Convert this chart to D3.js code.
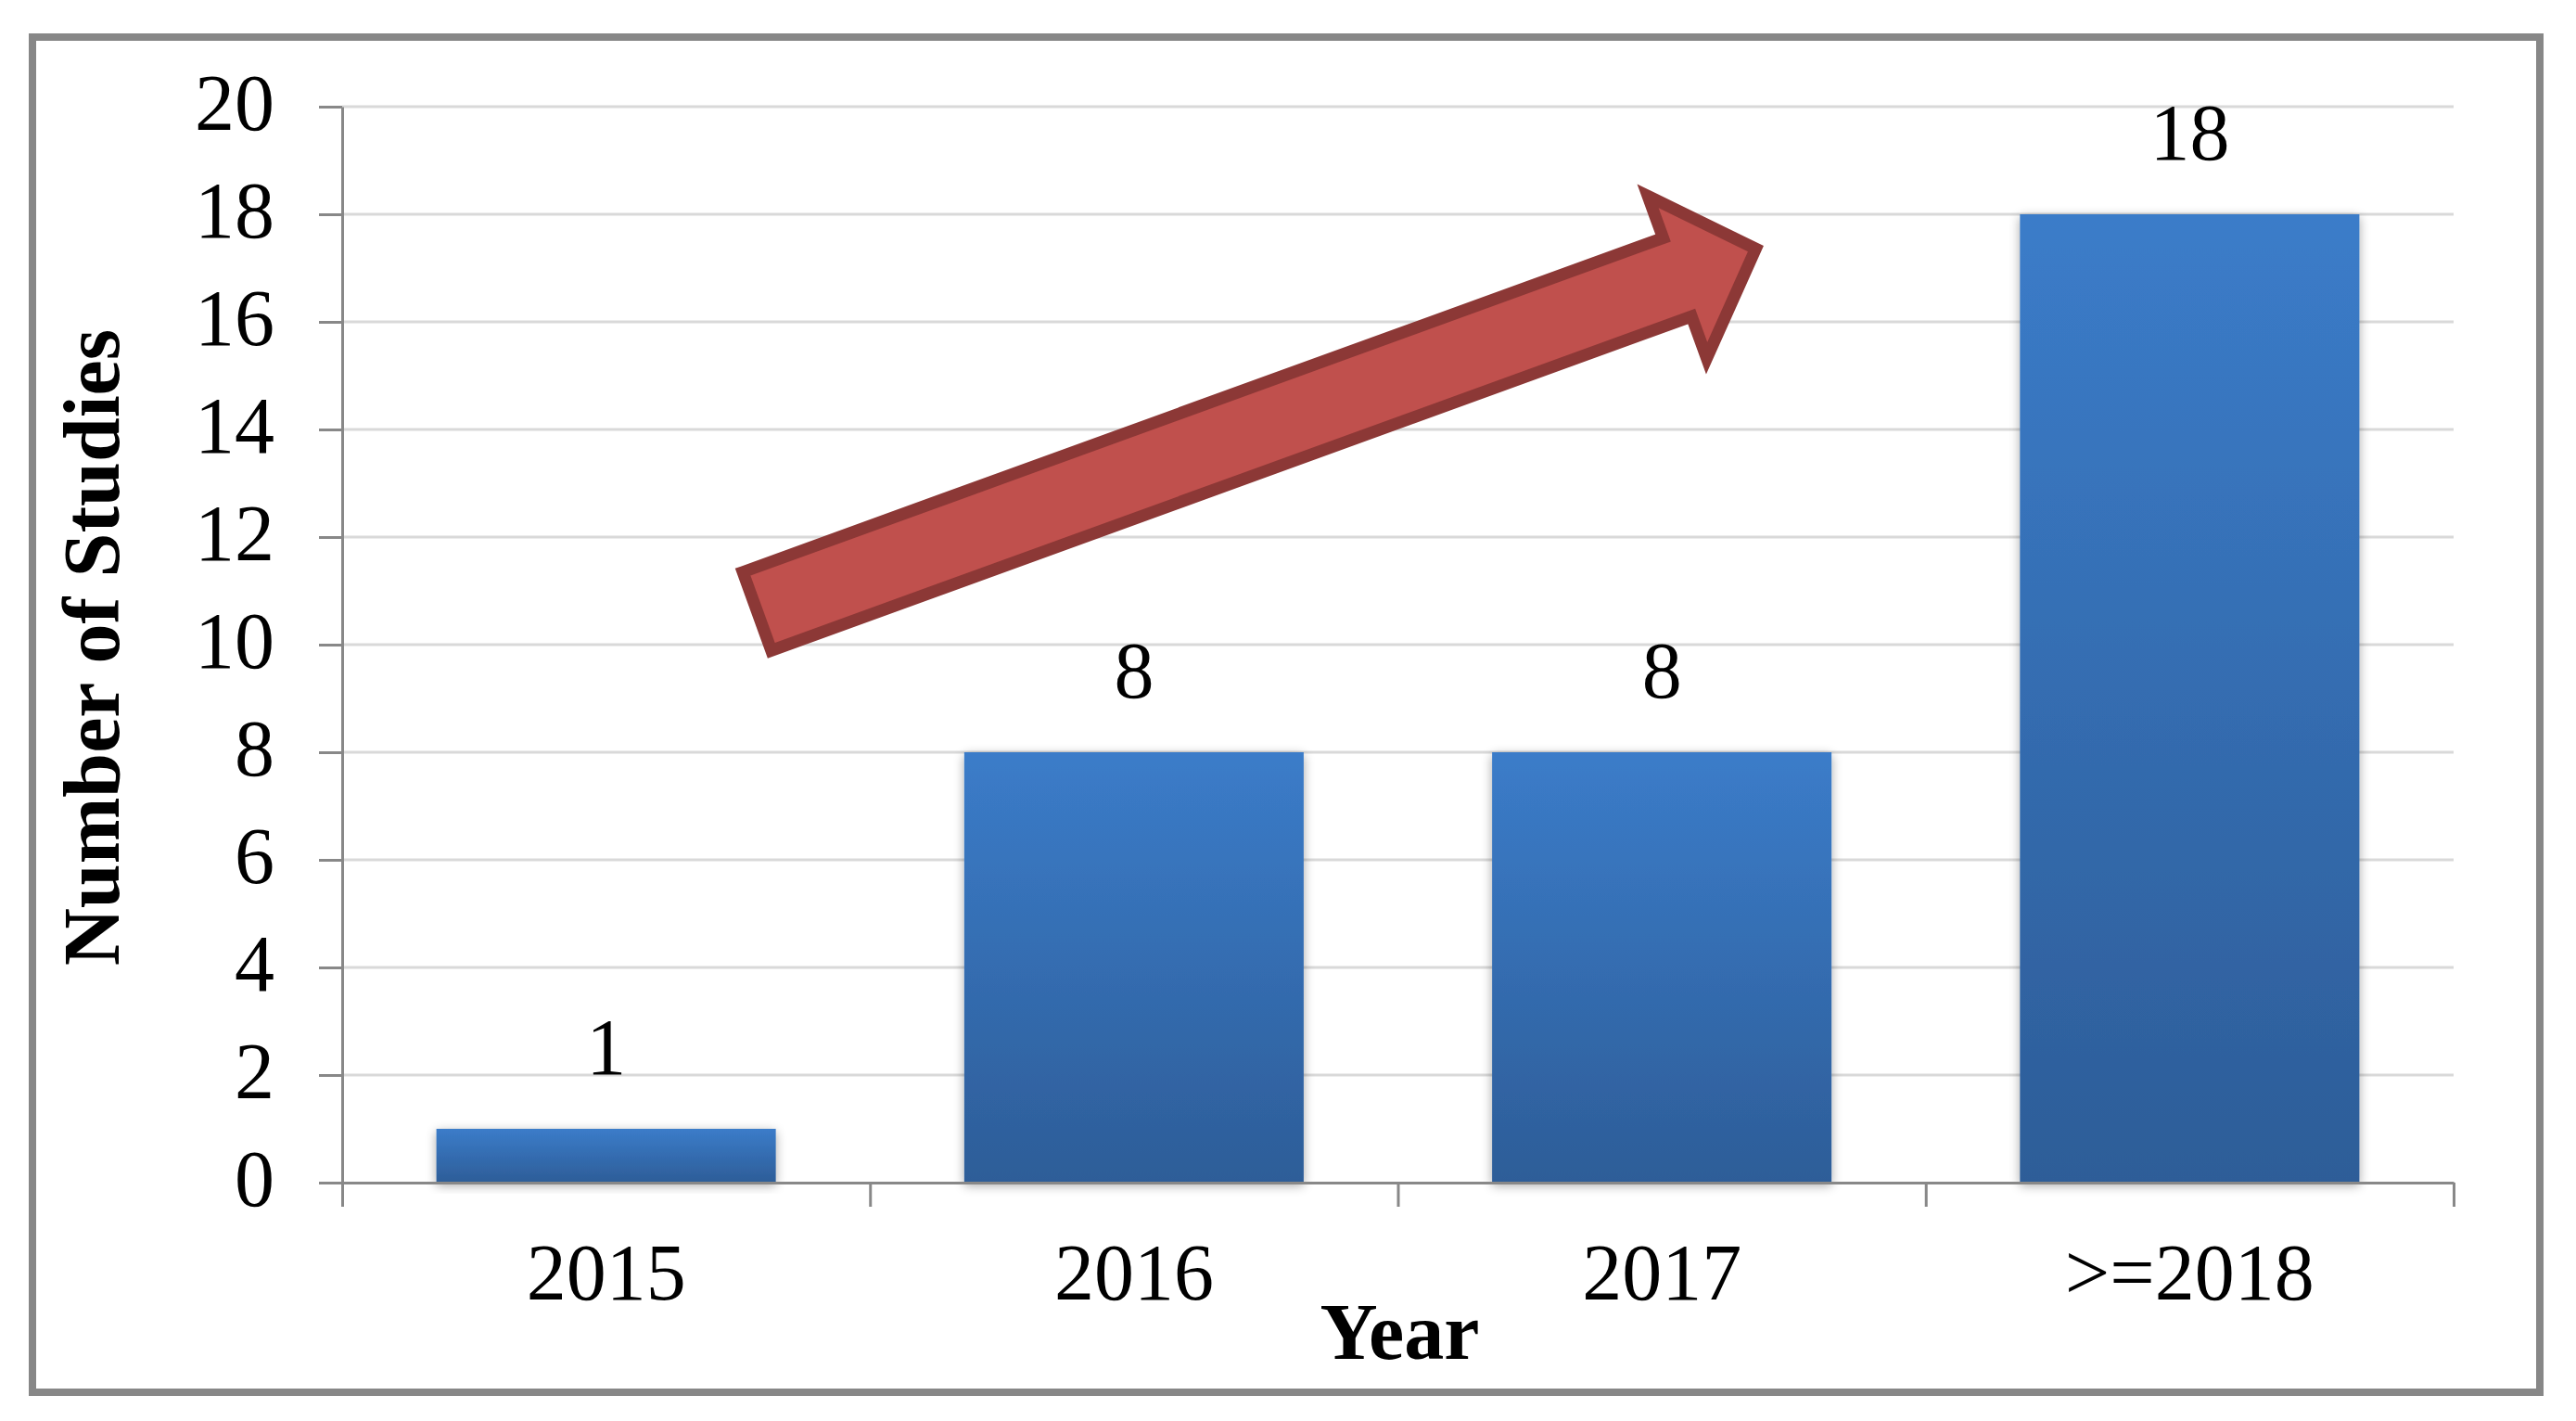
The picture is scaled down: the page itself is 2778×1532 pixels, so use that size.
<!DOCTYPE html>
<html>
<head>
<meta charset="utf-8">
<script src="https://cdn.jsdelivr.net/npm/d3@7"></script>
<style>
  html, body { margin: 0; padding: 0; background: #ffffff; }
  svg { display: block; }
</style>
</head>
<body>
<script>
// ---- data ----
const categories = ["2015", "2016", "2017", ">=2018"];
const studies = [1, 8, 8, 18];
const yTicks = [0, 2, 4, 6, 8, 10, 12, 14, 16, 18, 20];
const yTitle = "Number of Studies";
const xTitle = "Year";
// trend arrow annotation, in (category-index, value) terms
const arrowFrom = { pos: 0.786, value: 10.62 };
const arrowTo = { pos: 2.678, value: 17.36 };

// ---- layout ----
const W = 2778, H = 1532;
const plot = { left: 369, right: 2646, top: 115, bottom: 1275 };
const FONT = "'Liberation Serif', 'Times New Roman', Times, serif";
const FS = 86;

const svg = d3.select("body").append("svg")
  .attr("width", W).attr("height", H)
  .attr("viewBox", `0 0 ${W} ${H}`);

svg.append("rect").attr("width", W).attr("height", H).attr("fill", "#ffffff");

const defs = svg.append("defs");
const grad = defs.append("linearGradient").attr("id", "barGrad")
  .attr("x1", 0).attr("y1", 0).attr("x2", 0).attr("y2", 1);
grad.append("stop").attr("offset", "0%").attr("stop-color", "#3b7cc9");
grad.append("stop").attr("offset", "100%").attr("stop-color", "#2d5d98");

const shadow = defs.append("filter").attr("id", "shadow")
  .attr("x", "-20%").attr("y", "-20%").attr("width", "140%").attr("height", "140%");
shadow.append("feGaussianBlur").attr("in", "SourceAlpha").attr("stdDeviation", 6).attr("result", "blur");
shadow.append("feOffset").attr("in", "blur").attr("dx", 0).attr("dy", 3).attr("result", "off");
shadow.append("feComponentTransfer").attr("in", "off").attr("result", "soft")
  .append("feFuncA").attr("type", "linear").attr("slope", 0.35);
const merge = shadow.append("feMerge");
merge.append("feMergeNode").attr("in", "soft");
merge.append("feMergeNode").attr("in", "SourceGraphic");

// outer frame
svg.append("rect")
  .attr("x", 35).attr("y", 40).attr("width", 2704).attr("height", 1461)
  .attr("fill", "none").attr("stroke", "#878787").attr("stroke-width", 8);

// ---- scales ----
const y = d3.scaleLinear().domain([0, 20]).range([plot.bottom, plot.top]);
const x = d3.scaleBand().domain(categories).range([plot.left, plot.right])
  .paddingInner(0.357).paddingOuter(0.1785);
const xIdx = d3.scaleLinear().domain([0, categories.length]).range([plot.left, plot.right]);

// gridlines
svg.append("g").selectAll("line")
  .data(yTicks.filter(t => t > 0))
  .join("line")
  .attr("x1", plot.left).attr("x2", plot.right)
  .attr("y1", d => y(d)).attr("y2", d => y(d))
  .attr("stroke", "#d9d9d9").attr("stroke-width", 3);

// bars
svg.append("g").selectAll("rect")
  .data(categories.map((c, i) => ({ c, v: studies[i] })))
  .join("rect")
  .attr("x", d => x(d.c))
  .attr("width", x.bandwidth())
  .attr("y", d => y(d.v))
  .attr("height", d => y(0) - y(d.v))
  .attr("fill", "url(#barGrad)")
  .attr("filter", "url(#shadow)");

// y axis
const yAxis = svg.append("g")
  .attr("transform", `translate(${plot.left},0)`)
  .call(d3.axisLeft(y).tickValues(yTicks).tickSize(25).tickSizeOuter(0).tickPadding(48));
yAxis.select(".domain").attr("stroke", "#888888").attr("stroke-width", 3);
yAxis.selectAll(".tick line").attr("stroke", "#888888").attr("stroke-width", 3);
yAxis.selectAll(".tick text")
  .attr("font-family", FONT).attr("font-size", FS).attr("fill", "#000").attr("dy", "0.29em");

// x axis (boundary ticks)
const xAxis = svg.append("g")
  .attr("transform", `translate(0,${plot.bottom})`)
  .call(d3.axisBottom(xIdx).tickValues(d3.range(categories.length + 1))
    .tickSize(26).tickSizeOuter(0).tickFormat(""));
xAxis.select(".domain").attr("stroke", "#888888").attr("stroke-width", 3);
xAxis.selectAll(".tick line").attr("stroke", "#888888").attr("stroke-width", 3);

// category labels
svg.append("g").selectAll("text")
  .data(categories)
  .join("text")
  .attr("x", d => x(d) + x.bandwidth() / 2)
  .attr("y", plot.bottom + 126)
  .attr("text-anchor", "middle")
  .attr("font-family", FONT).attr("font-size", FS).attr("fill", "#000")
  .text(d => d);

// value labels
svg.append("g").selectAll("text")
  .data(categories.map((c, i) => ({ c, v: studies[i] })))
  .join("text")
  .attr("x", d => x(d.c) + x.bandwidth() / 2)
  .attr("y", d => y(d.v) - 59)
  .attr("text-anchor", "middle")
  .attr("font-family", FONT).attr("font-size", FS).attr("fill", "#000")
  .text(d => d.v);

// axis titles
svg.append("text")
  .attr("x", (plot.left + plot.right) / 2 + 2)
  .attr("y", 1465)
  .attr("text-anchor", "middle")
  .attr("font-family", FONT).attr("font-size", FS).attr("font-weight", "bold").attr("fill", "#000")
  .text(xTitle);

svg.append("text")
  .attr("transform", `translate(128,${(plot.top + plot.bottom) / 2 + 3}) rotate(-90)`)
  .attr("text-anchor", "middle")
  .attr("font-family", FONT).attr("font-size", FS).attr("font-weight", "bold").attr("fill", "#000")
  .text(yTitle);

// trend arrow
(function () {
  const sx = xIdx(arrowFrom.pos), sy = y(arrowFrom.value);
  const tx = xIdx(arrowTo.pos), ty = y(arrowTo.value);
  const dx = tx - sx, dy = ty - sy, L = Math.hypot(dx, dy);
  const ux = dx / L, uy = dy / L;      // along
  const nx = -uy, ny = ux;             // perpendicular
  const shaftHalf = 45, headHalf = 93, headLen = 90;
  const P = (a, b) => [sx + ux * a + nx * b, sy + uy * a + ny * b];
  const pts = [
    P(0, -shaftHalf),
    P(L - headLen, -shaftHalf),
    P(L - headLen, -headHalf),
    P(L, 0),
    P(L - headLen, headHalf),
    P(L - headLen, shaftHalf),
    P(0, shaftHalf)
  ];
  svg.append("path")
    .attr("d", d3.line()(pts) + "Z")
    .attr("fill", "#c0504d")
    .attr("stroke", "#8c3836")
    .attr("stroke-width", 13)
    .attr("stroke-linejoin", "miter")
    .attr("stroke-miterlimit", 10);
})();
</script>
</body>
</html>
